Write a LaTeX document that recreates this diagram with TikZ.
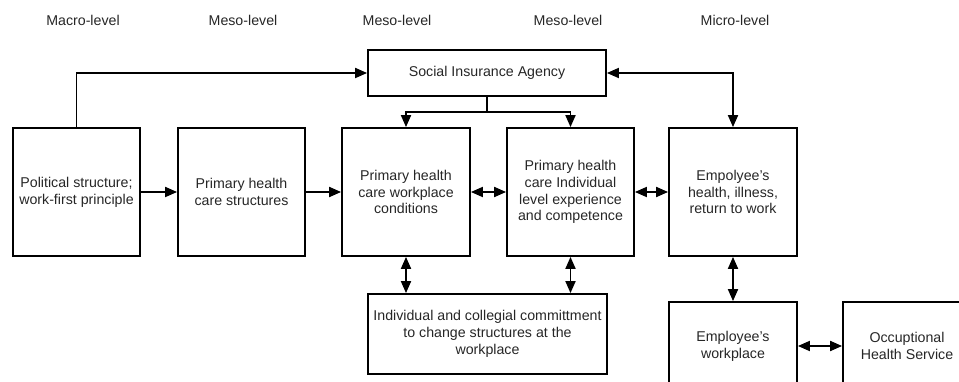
\documentclass[tikz,border=0pt]{standalone}
\usepackage{fontspec}
\setmainfont{Liberation Sans}
\usetikzlibrary{arrows.meta}
\tikzset{
  box/.style={draw=black, line width=1.8pt, align=center, inner sep=0pt, text=black!85,
    font=\fontsize{14.2}{16.7}\selectfont, minimum width=127pt, minimum height=128pt},
  lvl/.style={text=black!85, font=\fontsize{14.2}{16.7}\selectfont, inner sep=0pt},
  conn/.style={line width=1.8pt, draw=black},
  tip/.style={-{Triangle[length=12pt,width=10pt]}},
  dtip/.style={{Triangle[length=12pt,width=10pt]}-{Triangle[length=12pt,width=10pt]}}
}
\begin{document}
\begin{tikzpicture}[x=1pt,y=-1pt]
\useasboundingbox (0,0) rectangle (959,382);
\clip (0,0) rectangle (959,382);
% level labels
\node[lvl] (l1) at (83,20) {Macro-level};
\node[lvl] (l2) at (243,20) {Meso-level};
\node[lvl] (l3) at (397,20) {Meso-level};
\node[lvl] (l4) at (568,20) {Meso-level};
\node[lvl] (l5) at (735,20) {Micro-level};
% boxes
\node[box, minimum width=238pt, minimum height=46pt] (sia) at (487,73) {Social Insurance Agency};
\node[box] (b1) at (76.5,192) {Political structure;\\work-first principle};
\node[box] (b2) at (241.5,192) {Primary health\\care structures};
\node[box, minimum width=128pt] (b3) at (406,192) {Primary health\\care workplace\\conditions};
\node[box] (b4) at (570.5,192) {Primary health\\care Individual\\level experience\\and competence};
\node[box, minimum width=128pt] (b5) at (733,192) {Empolyee's\\health, illness,\\return to work};
\node[box, minimum width=239pt, minimum height=80pt] (cm) at (487.5,334) {Individual and collegial committment\\to change structures at the\\workplace};
\node[box, minimum width=128pt, minimum height=88pt] (wp) at (733,346) {Employee's\\workplace};
\node[box, minimum width=128pt, minimum height=88pt] (ohs) at (907,346) {Occuptional\\Health Service};
\coordinate (jn) at (487,112);
% connectors
\draw[conn, tip] (b1.north) |- (sia.west);
\draw[conn, dtip] (sia.east) -| (b5.north);
\draw[conn] (sia.south) -- (jn);
\draw[conn, tip] (jn) -| (b3.north);
\draw[conn, tip] (jn) -| (b4.north);
\draw[conn, tip] (b1.east) -- (b2.west);
\draw[conn, tip] (b2.east) -- (b3.west);
\draw[conn, dtip] (b3.east) -- (b4.west);
\draw[conn, dtip] (b4.east) -- (b5.west);
\draw[conn, dtip] (b3.south) -- (b3.south |- cm.north);
\draw[conn, dtip] (b4.south) -- (b4.south |- cm.north);
\draw[conn, dtip] (b5.south) -- (wp.north);
\draw[conn, dtip] (wp.east) -- (ohs.west);
\end{tikzpicture}
\end{document}
